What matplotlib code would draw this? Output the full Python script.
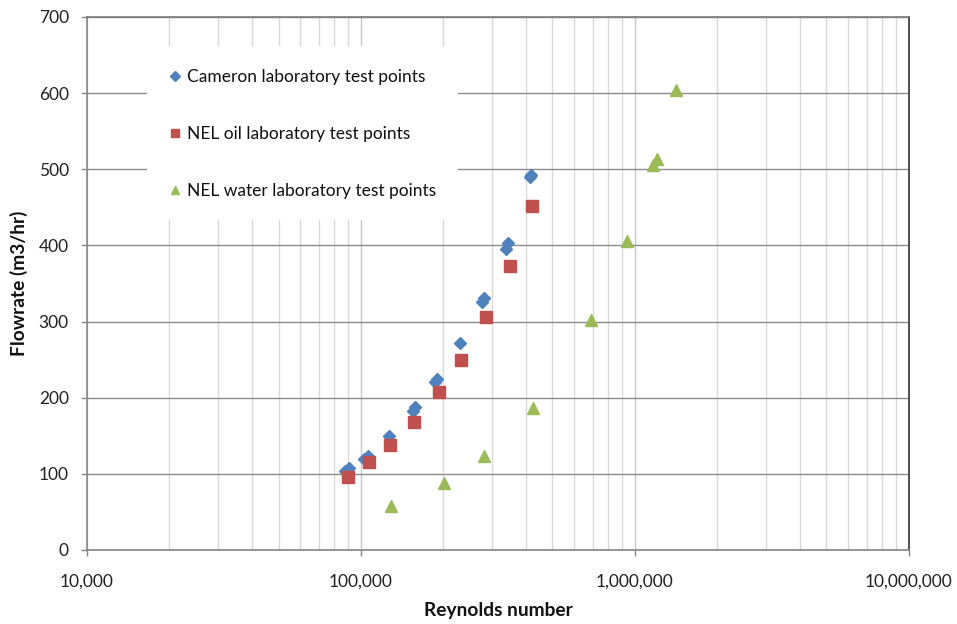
import matplotlib
matplotlib.use("Agg")
import matplotlib.pyplot as plt
from matplotlib.patches import Rectangle
from matplotlib.ticker import FixedLocator, FuncFormatter, NullFormatter

# Cameron laboratory test points (Reynolds number, flowrate m3/hr)
cameron_re = [87200, 90200, 103000, 106500, 126200, 154400, 157400,
              186200, 189700, 229800, 275800, 281200, 337500, 343000,
              415000, 419000]
cameron_q = [103.3, 107.2, 120.1, 124.0, 149.6, 182.8, 187.3,
             220.9, 224.4, 272.0, 325.9, 331.1, 395.9, 403.8,
             489.5, 492.0]

# NEL oil laboratory test points
nel_oil_re = [89400, 107200, 127900, 156100, 192600, 231700, 285000,
              349900, 421900]
nel_oil_q = [96.2, 115.5, 137.8, 168.0, 207.0, 249.3, 305.4, 373.6, 451.8]

# NEL water laboratory test points
nel_water_re = [128200, 200400, 281800, 425500, 688600, 937000,
                1160000, 1199000, 1413000]
nel_water_q = [58.2, 88.4, 123.8, 186.0, 301.8, 405.5, 505.2, 514.0, 603.7]

series_labels = ["Cameron laboratory test points",
                 "NEL oil laboratory test points",
                 "NEL water laboratory test points"]

y_ticks = [0, 100, 200, 300, 400, 500, 600, 700]
x_major = [1e4, 1e5, 1e6, 1e7]

FONT = ["Lato", "DejaVu Sans"]
plt.rcParams["font.family"] = FONT
FS = 12.5
FS_LABEL = 13.8

fig = plt.figure(figsize=(9.57, 6.24), dpi=100)
ax = fig.add_axes([0.0909, 0.1186, 0.8589, 0.8542])

ax.set_xscale("log")
ax.set_xlim(1e4, 1e7)
ax.set_ylim(0, 700)

# grid
ax.set_axisbelow(True)
minor = [m * d for d in (1e4, 1e5, 1e6) for m in range(2, 10)]
ax.xaxis.set_major_locator(FixedLocator(x_major))
ax.xaxis.set_minor_locator(FixedLocator(minor))
ax.xaxis.set_minor_formatter(NullFormatter())
ax.xaxis.set_major_formatter(FuncFormatter(lambda v, p: f"{int(round(v)):,}"))
ax.set_yticks(y_ticks)
ax.grid(True, which="minor", axis="x", color="#d9d9d9", lw=1.0)
ax.grid(True, which="major", axis="x", color="#c8c8c8", lw=1.0)
ax.grid(True, which="major", axis="y", color="#8c8c8c", lw=1.0)

for side in ("left", "bottom"):
    ax.spines[side].set_color("#868686")
    ax.spines[side].set_linewidth(1.2)
ax.spines["top"].set_color("#7a7a7a")
ax.spines["top"].set_linewidth(1.2)
ax.spines["right"].set_color("#333333")
ax.spines["right"].set_linewidth(1.2)

ax.tick_params(axis="both", which="major", direction="out", length=4,
               width=1, color="#868686", labelsize=FS, labelcolor="#222222")
ax.tick_params(axis="x", which="major", pad=13)
ax.tick_params(axis="y", which="major", pad=9)
ax.tick_params(axis="x", which="minor", length=0)

ax.set_xlabel("Reynolds number", fontsize=FS_LABEL, fontweight="bold",
              labelpad=9, color="#111111")
ax.set_ylabel("Flowrate (m3/hr)", fontsize=FS_LABEL, fontweight="bold",
              labelpad=8, color="#111111")

# white panel behind the legend, hiding the grid
ax.add_patch(Rectangle((0.073, 0.619), 0.378, 0.327, transform=ax.transAxes,
                       facecolor="white", edgecolor="none", zorder=1))

h1, = ax.plot(cameron_re, cameron_q, ls="none", marker="D", ms=6.2,
              color="#4F81BD", mec="#4F81BD", zorder=3)
h2, = ax.plot(nel_oil_re, nel_oil_q, ls="none", marker="s", ms=8,
              color="#C0504D", mec="#C0504D", zorder=3)
h3, = ax.plot(nel_water_re, nel_water_q, ls="none", marker="^", ms=8.5,
              color="#9BBB59", mec="#9BBB59", zorder=3)

leg = ax.legend([h1, h2, h3], series_labels, loc="upper left",
                bbox_to_anchor=(0.0922, 0.9146), frameon=False,
                fontsize=FS, handlelength=0.6, handletextpad=0.39,
                labelspacing=2.34, markerscale=0.75, borderaxespad=0)
for t in leg.get_texts():
    t.set_color("#111111")

fig.savefig("out.png", dpi=100)
